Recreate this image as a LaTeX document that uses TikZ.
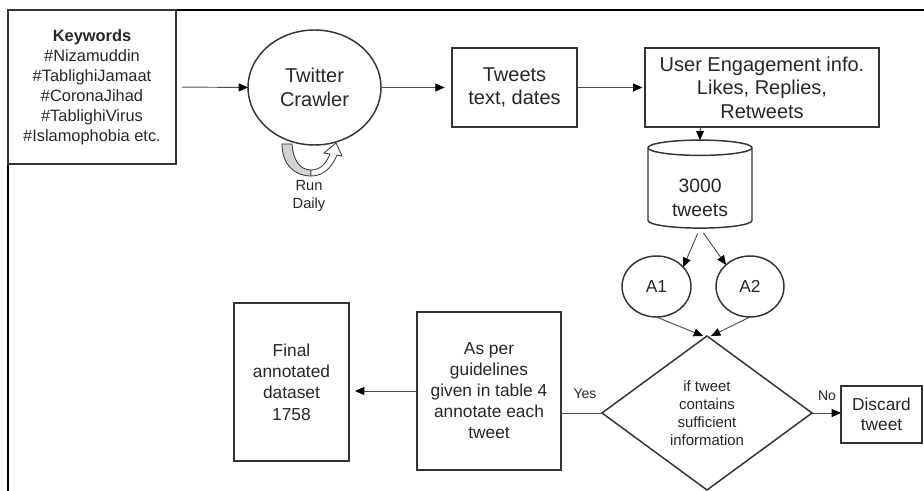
\documentclass[tikz,border=0pt]{standalone}
\usepackage{fontspec}
\setmainfont{Liberation Sans}
\usetikzlibrary{shapes.geometric,arrows.meta}
\definecolor{boxline}{HTML}{333333}
\definecolor{arrline}{HTML}{4D4D4D}
\definecolor{txtcol}{HTML}{262626}

\begin{document}
\begin{tikzpicture}[x=0.75pt,y=-0.75pt,
    box/.style={draw=boxline, line width=1.1pt, align=center, text=txtcol, inner sep=2pt, outer sep=0pt},
    flow/.style={draw=arrline, line width=0.7pt, -{Triangle[length=7pt,width=6pt,color=black]}},
    lbl/.style={text=txtcol, align=center, inner sep=0pt}]
    \useasboundingbox (0,0) rectangle (924,491);

    % Frame
    \draw[line width=1.5pt] (8,491) -- (8,10) -- (924,10);

    % Top row
    \node[box, minimum width=126pt, minimum height=115.5pt, font=\fontsize{12.3}{15}\selectfont] (kw) at (92,87)
        {\textbf{Keywords}\\\#Nizamuddin\\\#TablighiJamaat\\\#CoronaJihad\\\#TablighiVirus\\\#Islamophobia etc.};
    \node[box, ellipse, minimum width=99.75pt, minimum height=86.25pt, font=\fontsize{15}{18}\selectfont] (crawler) at (314.5,87.5) {Twitter\\Crawler};
    \node[box, minimum width=93.75pt, minimum height=59.25pt, font=\fontsize{15}{17.25}\selectfont] (tweets) at (514.5,87.5) {Tweets\\text, dates};
    \node[box, minimum width=175.5pt, minimum height=59.25pt, font=\fontsize{15}{17.6}\selectfont] (user) at (762,87.5) {User Engagement info.\\Likes, Replies,\\Retweets};

    % Run daily loop
    \draw[boxline, line width=0.6pt, fill=gray!35] (282,144) .. controls (282,165) and (295,176) .. (311,176)
        -- (311,170) .. controls (300,170) and (293,160) .. (292,144) -- cycle;
    \draw[boxline, line width=0.6pt, fill=white] (311,176) .. controls (324,176) and (332,167) .. (337,155)
        -- (342,156) -- (336,143) -- (324,153) -- (330,154) .. controls (326,164) and (320,170) .. (311,170) -- cycle;
    \node[lbl, font=\fontsize{11}{13.5}\selectfont] (run) at (309,196) {Run\\Daily};

    % Database and annotators
    \node[box, cylinder, shape border rotate=90, aspect=0.25, minimum width=78pt, minimum height=66pt,
        text height=40pt, font=\fontsize{14.5}{18}\selectfont] (db) at (700,189.5) {3000\\tweets};
    \node[box, ellipse, minimum width=51.75pt, minimum height=45.75pt, font=\fontsize{13}{15}\selectfont] (a1) at (656.5,286.5) {A1};
    \node[box, ellipse, minimum width=51pt, minimum height=45.75pt, font=\fontsize{13}{15}\selectfont] (a2) at (750,286.5) {A2};

    % Decision and bottom row
    \node[box, diamond, inner sep=0pt, minimum width=157.5pt, minimum height=115.5pt, font=\fontsize{11.2}{13.5}\selectfont] (dia) at (707,413)
        {if tweet\\contains\\sufficient\\information};
    \node[box, minimum width=60.75pt, minimum height=42.75pt, font=\fontsize{13}{15}\selectfont] (disc) at (881.5,414.5) {Discard\\tweet};
    \node[box, minimum width=108pt, minimum height=118.5pt, font=\fontsize{13}{15.75}\selectfont] (guide) at (489,391)
        {As per\\guidelines\\given in table 4\\annotate each\\tweet};
    \node[box, minimum width=86.25pt, minimum height=118.5pt, font=\fontsize{13}{16}\selectfont] (final) at (291.5,382)
        {Final\\annotated\\dataset\\1758};
    \node[lbl, font=\fontsize{10.5}{12}\selectfont] (yes) at (585,394) {Yes};
    \node[lbl, font=\fontsize{10.5}{12}\selectfont] (no) at (827,396) {No};

    % Connectors
    \draw[flow, shorten <=4.5pt] (kw.east) -- (crawler.west);
    \draw[flow, shorten >=5.5pt] (crawler.east) -- (tweets.west);
    \draw[flow, shorten >=2pt] (tweets.east) -- (user.west);
    \draw[flow] (db.north |- user.south) -- (db.north);
    \draw[flow, shorten <=4.5pt] (db.south) -- (a1.36);
    \draw[flow, shorten <=4.5pt] (db.south) -- (a2.138);
    \draw[flow] (a1.south) -- ([xshift=-3pt]dia.north);
    \draw[flow] (a2.south) -- ([xshift=3pt]dia.north);
    \draw[flow] (dia.east) -- (dia.east -| disc.west);
    \draw[draw=arrline, line width=0.7pt] (dia.west) -- (dia.west -| guide.east);
    \draw[flow, shorten >=4.5pt] (guide.west) -- (guide.west -| final.east);

\end{tikzpicture}
\end{document}
